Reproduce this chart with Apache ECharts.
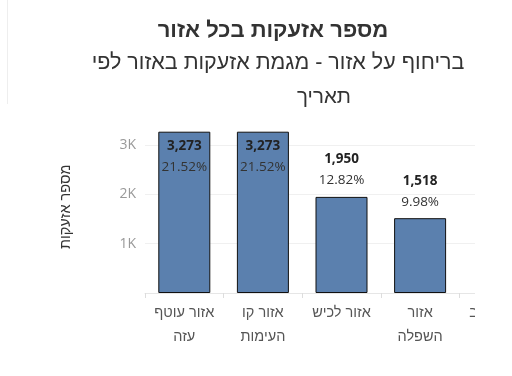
<!DOCTYPE html>
<html>
<head>
<meta charset="utf-8">
<script src="https://cdn.jsdelivr.net/npm/echarts@6/dist/echarts.min.js"></script>
<style>
  html, body { margin: 0; padding: 0; background: #fff; overflow: hidden; }
  /* wider than the window: the original view cuts off the last region */
  #chart { width: 560px; height: 376px; }
</style>
</head>
<body>
<div id="chart"></div>
<script>
// regions, sorted by number of alerts
const regions = ['אזור עוטף עזה', 'אזור קו העימות', 'אזור לכיש', 'אזור השפלה', 'אזור הנגב'];
const regionLabels = ['אזור עוטף\nעזה', 'אזור קו\nהעימות', 'אזור לכיש', 'אזור\nהשפלה', 'אזור הנגב'];
const alerts = [3273, 3273, 1950, 1518, null];
const shares = ['21.52%', '21.52%', '12.82%', '9.98%', ''];
const yTicks = { min: 0, max: 3500, step: 1000 };

const FONT = '"Open Sans", "DejaVu Sans", sans-serif';
const HEB = '"Liberation Sans", "DejaVu Sans", sans-serif';
const chart = echarts.init(document.getElementById('chart'));

const barData = alerts.map(v => ({
  value: v,
  label: {
    // tall bars get their labels inside, like the original
    position: v > 3000 ? 'insideTop' : 'top',
    distance: v > 3000 ? 4 : 6
  }
}));

chart.setOption({
  animation: false,
  textStyle: { fontFamily: FONT },
  grid: { left: 145, top: 120.5, width: 393, height: 172.5 },
  xAxis: {
    type: 'category',
    data: regions,
    axisLine: { lineStyle: { color: '#e6e6e6' } },
    axisTick: { show: true, length: 5, lineStyle: { color: '#dddddd' } },
    axisLabel: {
      color: '#555',
      fontFamily: HEB,
      fontSize: 14.5,
      lineHeight: 24,
      margin: 8,
      interval: 0,
      formatter: (v, i) => regionLabels[i]
    }
  },
  yAxis: {
    type: 'value',
    min: yTicks.min,
    max: yTicks.max,
    interval: yTicks.step,
    name: 'מספר אזעקות',
    nameLocation: 'middle',
    nameGap: 72,
    nameTextStyle: { color: '#333', fontSize: 14.5, fontFamily: HEB },
    axisLine: { show: false },
    axisTick: { show: false },
    axisLabel: {
      color: '#999',
      fontSize: 14,
      margin: 9,
      showMinLabel: false,
      showMaxLabel: false,
      formatter: v => (v % 1000 === 0 && v > 0 ? v / 1000 + 'K' : '')
    },
    splitLine: { showMaxLine: false, showMinLine: false, lineStyle: { color: '#f0f0f0' } }
  },
  series: [{
    type: 'bar',
    data: barData,
    barWidth: 52,
    itemStyle: { color: '#5b80ae', borderColor: '#111', borderWidth: 1 },
    label: {
      show: true,
      formatter: p => '{a|' + p.value.toLocaleString('en-US') + '}\n{b|' + shares[p.dataIndex] + '}',
      rich: {
        a: { fontSize: 13.5, fontWeight: 'bold', color: '#222', lineHeight: 21, fontFamily: FONT },
        b: { fontSize: 13.5, color: '#333', lineHeight: 21, fontFamily: FONT }
      }
    }
  }],
  graphic: [
    { type: 'rect', left: 475, top: 110, shape: { width: 90, height: 266 }, style: { fill: '#fff' }, z: 100 },
    { type: 'line', shape: { x1: 7.5, y1: 0, x2: 7.5, y2: 104 }, style: { stroke: '#eeeeee', lineWidth: 1 } },
    {
      type: 'text', x: 273, y: 31,
      style: { text: 'מספר אזעקות בכל אזור', font: 'bold 22px ' + HEB, fill: '#333', align: 'center', verticalAlign: 'middle' }
    },
    {
      type: 'text', x: 278, y: 63,
      style: { text: 'בריחוף על אזור - מגמת אזעקות באזור לפי', font: '21.5px ' + HEB, fill: '#333', align: 'center', verticalAlign: 'middle' }
    },
    {
      type: 'text', x: 324, y: 97,
      style: { text: 'תאריך', font: '20.5px ' + HEB, fill: '#333', align: 'center', verticalAlign: 'middle' }
    }
  ]
});
</script>
</body>
</html>
